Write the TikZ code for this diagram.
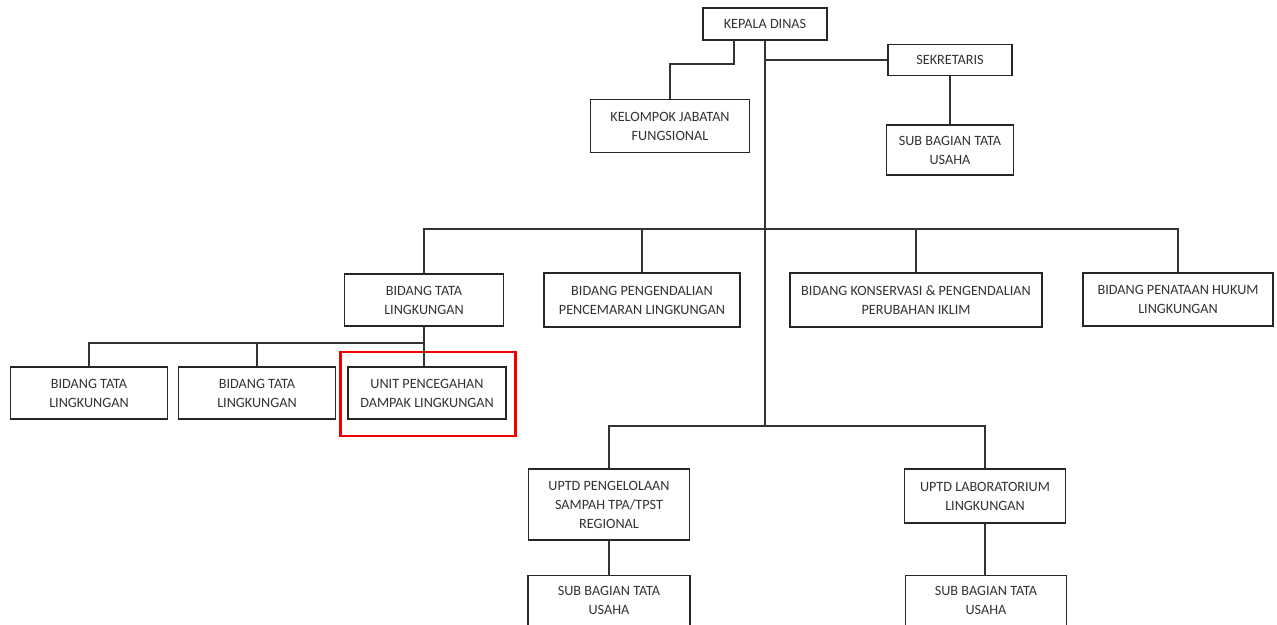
\documentclass[tikz,border=0pt]{standalone}
\usepackage{fontspec}
\setmainfont{Carlito}
\begin{document}
\begin{tikzpicture}[x=1pt,y=-1pt,
  unit/.style={draw=black!85, line width=1.3pt, fill=white, align=center,
    inner sep=0pt, font=\fontsize{14.2}{19}\selectfont, text=black!80},
  link/.style={draw=black!80, line width=1.3pt},
  mark box/.style={draw=red!95!black, line width=2.4pt, inner sep=0pt}]
\useasboundingbox (0,0) rectangle (1277,624);
\clip (0,0) rectangle (1277,624);

% highlight frame behind the unit box
\node[mark box, minimum width=175, minimum height=84] (hl) at (428,394) {};

% top level
\node[unit, minimum width=124, minimum height=32] (kd) at (765,24) {KEPALA DINAS};
\node[unit, minimum width=159, minimum height=53] (kjf) at (670,126) {KELOMPOK JABATAN\\FUNGSIONAL};
\node[unit, minimum width=124, minimum height=31] (sek) at (950,60) {SEKRETARIS};
\node[unit, minimum width=127, minimum height=50] (sbt) at (950,150) {SUB BAGIAN TATA\\USAHA};

% bidang row
\node[unit, minimum width=159, minimum height=52] (btl) at (424,300) {BIDANG TATA\\LINGKUNGAN};
\node[unit, minimum width=196, minimum height=54] (bpp) at (642,300) {BIDANG PENGENDALIAN\\PENCEMARAN LINGKUNGAN};
\node[unit, minimum width=252, minimum height=54] (bkp) at (916,300) {BIDANG KONSERVASI \& PENGENDALIAN\\PERUBAHAN IKLIM};
\node[unit, minimum width=190, minimum height=53] (bph) at (1178,299.5) {BIDANG PENATAAN HUKUM\\LINGKUNGAN};

% units under bidang tata lingkungan
\node[unit, minimum width=157, minimum height=52] (b1) at (89,393) {BIDANG TATA\\LINGKUNGAN};
\node[unit, minimum width=157, minimum height=52] (b2) at (257,393) {BIDANG TATA\\LINGKUNGAN};
\node[unit, minimum width=158, minimum height=52] (upd) at (427,393) {UNIT PENCEGAHAN\\DAMPAK LINGKUNGAN};

% UPTD row
\node[unit, minimum width=161, minimum height=71] (u1) at (609,504.5) {UPTD PENGELOLAAN\\SAMPAH TPA/TPST\\REGIONAL};
\node[unit, minimum width=161, minimum height=54] (u2) at (985,496) {UPTD LABORATORIUM\\LINGKUNGAN};
\node[unit, minimum width=162, minimum height=50, anchor=north] (s1) at (609,575) {SUB BAGIAN TATA\\USAHA};
\node[unit, minimum width=161, minimum height=50, anchor=north] (s2) at (986,575) {SUB BAGIAN TATA\\USAHA};

% junction points
\coordinate (trunkEnd) at (765,426);
\coordinate (kdLeft) at (734,40);
\coordinate (sekJ) at (765,60);
\coordinate (barL) at (424,229);
\coordinate (barR) at (1178,229);
\coordinate (subBarL) at (89,343);
\coordinate (subBarR) at (424,343);
\coordinate (uBarL) at (609,426);
\coordinate (uBarR) at (985,426);

% connectors
\draw[link] (kdLeft) |- (670,64) -- (kjf.north);
\draw[link] (kd.south) -- (trunkEnd);
\draw[link] (sekJ) -- (sek.west);
\draw[link] (sek.south) -- (sbt.north);

\draw[link] (btl.north) -- (barL) -- (barR) -- (bph.north);
\draw[link] (bpp.north) -- (bpp.north |- barL);
\draw[link] (bkp.north) -- (bkp.north |- barL);

\draw[link] (btl.south) -- (upd.north -| subBarR);
\draw[link] (b1.north) -- (subBarL) -- (subBarR);
\draw[link] (b2.north) -- (b2.north |- subBarL);

\draw[link] (u1.north) -- (uBarL) -- (uBarR) -- (u2.north);
\draw[link] (u1.south) -- (s1.north);
\draw[link] (u2.south) -- (u2.south |- s2.north);
\end{tikzpicture}
\end{document}
